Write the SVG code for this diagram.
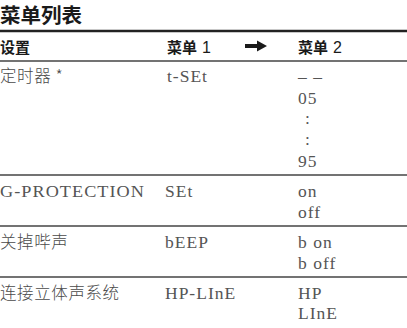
<svg xmlns="http://www.w3.org/2000/svg" width="407" height="328" viewBox="0 0 407 328">
<style>
.title{font-family:"Noto Sans CJK SC","Noto Sans",sans-serif;font-weight:bold;font-size:20.5px;fill:#1a1a1a}
.hd{font-family:"Noto Sans CJK SC","Noto Sans",sans-serif;font-weight:bold;font-size:15px;fill:#1a1a1a}
.hdn{font-family:"Liberation Sans","Noto Sans CJK SC",sans-serif;font-weight:normal;font-size:16px;fill:#1a1a1a}
.cn{font-family:"Noto Sans CJK SC",sans-serif;font-weight:300;font-size:16.5px;letter-spacing:0.6px;fill:#4a4a4a}
.v{font-family:"Liberation Serif","Noto Sans CJK SC",serif;font-size:17.5px;letter-spacing:1px;fill:#555}
.rule{stroke:#444;stroke-width:1.5;fill:none}
</style>
<rect width="407" height="328" fill="#fff"/>
<text class="title" x="0" y="23">菜单列表</text>
<g id="connectors">
<line x1="0" y1="31" x2="407" y2="31" stroke="#222" stroke-width="2.5"/>
<line class="rule" x1="0" y1="61" x2="407" y2="61"/>
<line class="rule" x1="0" y1="175" x2="407" y2="175"/>
<line class="rule" x1="0" y1="226" x2="407" y2="226"/>
<line class="rule" x1="0" y1="277" x2="407" y2="277"/>
</g>
<g id="header">
<text class="hd" x="0" y="53">设置</text>
<text class="hd" x="167" y="53">菜单<tspan class="hdn" dx="5">1</tspan></text>
<path d="M245,44 H257 V40.5 L267,46 L257,51.5 V48 H245 Z" fill="#1a1a1a"/>
<text class="hd" x="298" y="53">菜单<tspan class="hdn" dx="5">2</tspan></text>
</g>
<g id="row-timer">
<text class="cn" x="0" y="82">定时器 *</text>
<text class="v" x="167" y="82">t-SEt</text>
<text class="v" x="298" y="82">– –</text>
<text class="v" x="298" y="104">05</text>
<text class="v" x="305" y="124">:</text>
<text class="v" x="305" y="145">:</text>
<text class="v" x="298" y="167">95</text>
</g>
<g id="row-gprotection">
<text class="v" x="0" y="197" textLength="145" lengthAdjust="spacingAndGlyphs">G-PROTECTION</text>
<text class="v" x="165" y="197">SEt</text>
<text class="v" x="298" y="197">on</text>
<text class="v" x="298" y="218">off</text>
</g>
<g id="row-beep">
<text class="cn" x="0" y="248">关掉哔声</text>
<text class="v" x="165" y="248">bEEP</text>
<text class="v" x="298" y="248">b on</text>
<text class="v" x="298" y="269">b off</text>
</g>
<g id="row-stereo">
<text class="cn" x="0" y="299">连接立体声系统</text>
<text class="v" x="165" y="299">HP-LInE</text>
<text class="v" x="298" y="299">HP</text>
<text class="v" x="298" y="319">LInE</text>
</g>
</svg>
